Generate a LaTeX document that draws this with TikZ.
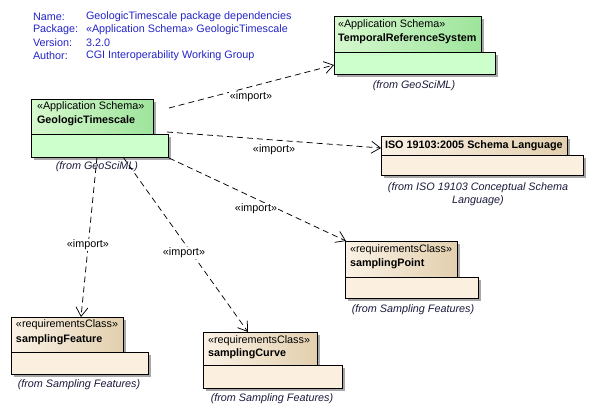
\documentclass[tikz,border=0pt]{standalone}
\usepackage{fontspec}
\setmainfont{Liberation Sans}
\usetikzlibrary{arrows.meta,calc,shadows}
\definecolor{hdrblue}{HTML}{2424C8}
\definecolor{gtabL}{HTML}{D6F8CE}
\definecolor{gtabR}{HTML}{9EE49C}
\definecolor{gbody}{HTML}{CCFFCC}
\definecolor{btabL}{HTML}{FBF2E6}
\definecolor{btabR}{HTML}{E2CFAE}
\definecolor{bbody}{HTML}{FBF0E0}
\definecolor{shadowgray}{HTML}{A8A8A8}
\definecolor{fromcol}{HTML}{1A1A3C}
\tikzset{
  x=1pt,y=-1pt,
  every node/.style={font=\fontsize{10.8}{13}\selectfont, inner sep=0pt, outer sep=0pt},
  boxbase/.style={draw=black, line width=0.8pt, anchor=north west,
    drop shadow={shadow xshift=3pt,shadow yshift=-3pt,fill=shadowgray,opacity=1}},
  gtab/.style={boxbase, left color=gtabL, right color=gtabR},
  gbod/.style={boxbase, fill=gbody},
  btab/.style={boxbase, left color=btabL, right color=btabR},
  bbod/.style={boxbase, fill=bbody},
  stereo/.style={anchor=west},
  pname/.style={anchor=west, font=\fontsize{10.8}{13}\selectfont\bfseries},
  fromtxt/.style={font=\fontsize{10.8}{13}\selectfont\itshape, text=fromcol, align=center},
  hdr/.style={anchor=west, text=hdrblue},
  dep/.style={draw=black, line width=0.75pt, dash pattern=on 6pt off 4pt,
    -{Straight Barb[length=9pt,width=12pt,line width=0.75pt]}},
  lbl/.style={fill=white, inner sep=1pt}
}
\begin{document}
\begin{tikzpicture}
\useasboundingbox[fill=white] (0,0) rectangle (593,416);

% header
\node[hdr] (hn) at (33,17) {Name:};
\node[hdr] (hp) at (33,30) {Package:};
\node[hdr] (hv) at (33,43) {Version:};
\node[hdr] (ha) at (33,56) {Author:};
\node[hdr] (hn2) at (86,17) {GeologicTimescale package dependencies};
\node[hdr] (hp2) at (86,30) {«Application Schema» GeologicTimescale};
\node[hdr] (hv2) at (86,43) {3.2.0};
\node[hdr] (ha2) at (86,56) {CGI Interoperability Working Group};

% GeologicTimescale
\node[gtab, minimum width=122, minimum height=35] (geoT) at (31,99) {};
\node[gbod, minimum width=137, minimum height=23] (geoB) at (31,134) {};
\node[stereo] (geoS) at ($(geoT.north west)+(6,8)$) {«Application Schema»};
\node[pname] (geoN) at ($(geoT.north west)+(6,22)$) {GeologicTimescale};
\node[fromtxt] (geoF) at (97,167) {(from GeoSciML)};

% TemporalReferenceSystem
\node[gtab, minimum width=147, minimum height=36] (tmpT) at (334,16) {};
\node[gbod, minimum width=161, minimum height=22] (tmpB) at (334,52) {};
\node[stereo] (tmpS) at ($(tmpT.north west)+(4,9)$) {«Application Schema»};
\node[pname] (tmpN) at ($(tmpT.north west)+(4,23)$) {TemporalReferenceSystem};
\node[fromtxt] (tmpF) at (414,86) {(from GeoSciML)};

% ISO 19103
\node[btab, minimum width=186, minimum height=19] (isoT) at (381,136) {};
\node[bbod, minimum width=202, minimum height=20] (isoB) at (381,155) {};
\node[pname] (isoN) at ($(isoT.north west)+(4,10)$) {ISO 19103:2005 Schema Language};
\node[fromtxt] (isoF) at (478,194.5) {(from ISO 19103 Conceptual Schema\\Language)};

% samplingPoint
\node[btab, minimum width=112, minimum height=36] (spT) at (345,241) {};
\node[bbod, minimum width=133, minimum height=21] (spB) at (345,277) {};
\node[stereo] (spS) at ($(spT.north west)+(5,9)$) {«requirementsClass»};
\node[pname] (spN) at ($(spT.north west)+(5,23)$) {samplingPoint};
\node[fromtxt] (spF) at (413,310) {(from Sampling Features)};

% samplingFeature
\node[btab, minimum width=112, minimum height=35] (sfT) at (11,317) {};
\node[bbod, minimum width=137, minimum height=22] (sfB) at (11,352) {};
\node[stereo] (sfS) at ($(sfT.north west)+(5,8)$) {«requirementsClass»};
\node[pname] (sfN) at ($(sfT.north west)+(5,23)$) {samplingFeature};
\node[fromtxt] (sfF) at (79,385) {(from Sampling Features)};

% samplingCurve
\node[btab, minimum width=114, minimum height=33] (scT) at (203,332) {};
\node[bbod, minimum width=139, minimum height=23] (scB) at (203,365) {};
\node[stereo] (scS) at ($(scT.north west)+(5,9)$) {«requirementsClass»};
\node[pname] (scN) at ($(scT.north west)+(5,22)$) {samplingCurve};
\node[fromtxt] (scF) at (272,399) {(from Sampling Features)};

% connectors
\coordinate (a1) at ($(geoT.north east)+(16,9)$);
\coordinate (b1) at ($(tmpB.north west)+(0,13)$);
\draw[dep] (a1) -- (b1);
\coordinate (a2) at ($(geoB.north east)+(-1,-2)$);
\coordinate (b2) at ($(isoT.south west)+(0,-7)$);
\draw[dep] (a2) -- (b2);
\coordinate (a3) at ($(geoB.south east)+(1,1)$);
\coordinate (b3) at ($(spT.north west)+(1,0)$);
\draw[dep] (a3) -- (b3);
\coordinate (a4) at ($(geoB.south west)+(66,0)$);
\coordinate (b4) at ($(sfT.north west)+(70,0)$);
\draw[dep] (a4) -- (b4);
\coordinate (a5) at ($(geoB.south west)+(92,0)$);
\coordinate (b5) at ($(scT.north west)+(45,0)$);
\draw[dep] (a5) -- (b5);

% labels
\node[lbl] (l1) at (251,97) {«import»};
\node[lbl] (l2) at (274,150) {«import»};
\node[lbl] (l3) at (256,209) {«import»};
\node[lbl] (l4) at (88,245) {«import»};
\node[lbl] (l5) at (184,253) {«import»};
\end{tikzpicture}
\end{document}
